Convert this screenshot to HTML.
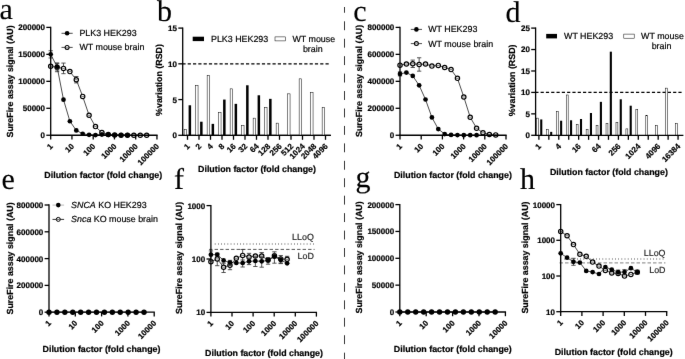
<!DOCTYPE html>
<html><head><meta charset="utf-8"><title>Figure</title>
<style>
html,body{margin:0;padding:0;background:#fff;}
body{width:685px;height:359px;overflow:hidden;font-family:"Liberation Sans",sans-serif;}
svg{display:block;will-change:transform;}
svg text{font-family:"Liberation Sans",sans-serif;text-rendering:geometricPrecision;}
svg text{stroke:#000;stroke-width:0.2px;}
svg text[font-weight="normal"]{stroke-width:0.18px;}
svg text.pl{stroke-width:0.15px;font-family:"Liberation Serif",serif;}
</style></head><body>
<svg width="685" height="359" viewBox="0 0 685 359">
<defs><filter id="soft" x="0" y="0" width="685" height="359" filterUnits="userSpaceOnUse" color-interpolation-filters="sRGB"><feConvolveMatrix order="3" kernelMatrix="0.00276 0.04704 0.00276 0.04704 0.80077 0.04704 0.00276 0.04704 0.00276" divisor="1" edgeMode="duplicate" preserveAlpha="true"/></filter></defs>
<rect x="0" y="0" width="685" height="359" fill="#fff"/>
<g filter="url(#soft)">
<rect x="-5" y="-5" width="695" height="369" fill="#fff"/>
<line x1="344.50" y1="7.00" x2="344.50" y2="12.76" stroke="#222" stroke-width="0.9" />
<line x1="344.50" y1="21.30" x2="344.50" y2="30.20" stroke="#222" stroke-width="0.9" />
<line x1="344.50" y1="38.74" x2="344.50" y2="47.64" stroke="#222" stroke-width="0.9" />
<line x1="344.50" y1="56.18" x2="344.50" y2="65.08" stroke="#222" stroke-width="0.9" />
<line x1="344.50" y1="73.62" x2="344.50" y2="82.52" stroke="#222" stroke-width="0.9" />
<line x1="344.50" y1="91.06" x2="344.50" y2="99.96" stroke="#222" stroke-width="0.9" />
<line x1="344.50" y1="108.50" x2="344.50" y2="117.40" stroke="#222" stroke-width="0.9" />
<line x1="344.50" y1="125.94" x2="344.50" y2="134.84" stroke="#222" stroke-width="0.9" />
<line x1="344.50" y1="143.38" x2="344.50" y2="152.28" stroke="#222" stroke-width="0.9" />
<line x1="344.50" y1="160.82" x2="344.50" y2="169.72" stroke="#222" stroke-width="0.9" />
<line x1="344.50" y1="178.26" x2="344.50" y2="187.16" stroke="#222" stroke-width="0.9" />
<line x1="344.50" y1="195.70" x2="344.50" y2="204.60" stroke="#222" stroke-width="0.9" />
<line x1="344.50" y1="213.14" x2="344.50" y2="222.04" stroke="#222" stroke-width="0.9" />
<line x1="344.50" y1="230.58" x2="344.50" y2="239.48" stroke="#222" stroke-width="0.9" />
<line x1="344.50" y1="248.02" x2="344.50" y2="256.92" stroke="#222" stroke-width="0.9" />
<line x1="344.50" y1="265.46" x2="344.50" y2="274.36" stroke="#222" stroke-width="0.9" />
<line x1="344.50" y1="282.90" x2="344.50" y2="291.80" stroke="#222" stroke-width="0.9" />
<line x1="344.50" y1="300.34" x2="344.50" y2="309.24" stroke="#222" stroke-width="0.9" />
<line x1="344.50" y1="317.78" x2="344.50" y2="326.68" stroke="#222" stroke-width="0.9" />
<line x1="344.50" y1="335.22" x2="344.50" y2="344.12" stroke="#222" stroke-width="0.9" />
<line x1="344.50" y1="352.66" x2="344.50" y2="359.00" stroke="#222" stroke-width="0.9" />
<text class="pl" x="-0.4" y="19.0" font-size="30" font-weight="normal">a</text>
<text class="pl" x="157" y="21.2" font-size="30" font-weight="normal">b</text>
<text class="pl" x="353.3" y="20.7" font-size="30" font-weight="normal">c</text>
<text class="pl" x="505.5" y="21.7" font-size="30" font-weight="normal">d</text>
<text class="pl" x="1.6" y="188.7" font-size="30" font-weight="normal">e</text>
<text class="pl" x="174.0" y="188.9" font-size="30" font-weight="normal">f</text>
<text class="pl" x="355.5" y="187.0" font-size="30" font-weight="normal">g</text>
<text class="pl" x="520.0" y="188.8" font-size="30" font-weight="normal">h</text>
<text transform="translate(13.00,81.40) rotate(-90)" font-size="8.85" font-weight="bold" text-anchor="middle">SureFire assay signal (AU)</text>
<text x="103.30" y="177.70" font-size="8.85" font-weight="bold" text-anchor="middle" fill="#000" >Dilution factor (fold change)</text>
<path d="M50.70,66.23 L57.10,67.30 L63.49,68.38 L69.89,71.62 L76.29,79.71 L82.68,96.42 L89.08,115.30 L95.48,126.62 L101.88,132.55 L108.27,134.44 L114.67,134.98 L121.07,135.14 L127.46,135.20 L133.86,135.20 L140.26,135.20 L146.65,135.20" fill="none" stroke="#000" stroke-width="0.7"/>
<line x1="57.10" y1="62.90" x2="57.10" y2="71.70" stroke="#383838" stroke-width="0.85" />
<line x1="54.95" y1="62.90" x2="59.25" y2="62.90" stroke="#383838" stroke-width="0.85" />
<line x1="54.95" y1="71.70" x2="59.25" y2="71.70" stroke="#383838" stroke-width="0.85" />
<line x1="63.49" y1="63.08" x2="63.49" y2="73.68" stroke="#383838" stroke-width="0.85" />
<line x1="61.34" y1="63.08" x2="65.64" y2="63.08" stroke="#383838" stroke-width="0.85" />
<line x1="61.34" y1="73.68" x2="65.64" y2="73.68" stroke="#383838" stroke-width="0.85" />
<line x1="76.29" y1="76.51" x2="76.29" y2="82.91" stroke="#383838" stroke-width="0.85" />
<line x1="74.14" y1="76.51" x2="78.44" y2="76.51" stroke="#383838" stroke-width="0.85" />
<line x1="74.14" y1="82.91" x2="78.44" y2="82.91" stroke="#383838" stroke-width="0.85" />
<circle cx="50.70" cy="66.23" r="2.15" fill="#fff" stroke="#000" stroke-width="1.2"/>
<line x1="49.35" y1="66.23" x2="52.05" y2="66.23" stroke="#484848" stroke-width="0.75" />
<circle cx="57.10" cy="67.30" r="2.15" fill="#fff" stroke="#000" stroke-width="1.2"/>
<line x1="55.75" y1="67.30" x2="58.45" y2="67.30" stroke="#484848" stroke-width="0.75" />
<circle cx="63.49" cy="68.38" r="2.15" fill="#fff" stroke="#000" stroke-width="1.2"/>
<line x1="62.14" y1="68.38" x2="64.84" y2="68.38" stroke="#484848" stroke-width="0.75" />
<circle cx="69.89" cy="71.62" r="2.15" fill="#fff" stroke="#000" stroke-width="1.2"/>
<line x1="68.54" y1="71.62" x2="71.24" y2="71.62" stroke="#484848" stroke-width="0.75" />
<circle cx="76.29" cy="79.71" r="2.15" fill="#fff" stroke="#000" stroke-width="1.2"/>
<line x1="74.94" y1="79.71" x2="77.64" y2="79.71" stroke="#484848" stroke-width="0.75" />
<circle cx="82.68" cy="96.42" r="2.15" fill="#fff" stroke="#000" stroke-width="1.2"/>
<line x1="81.33" y1="96.42" x2="84.03" y2="96.42" stroke="#484848" stroke-width="0.75" />
<circle cx="89.08" cy="115.30" r="2.15" fill="#fff" stroke="#000" stroke-width="1.2"/>
<line x1="87.73" y1="115.30" x2="90.43" y2="115.30" stroke="#484848" stroke-width="0.75" />
<circle cx="95.48" cy="126.62" r="2.15" fill="#fff" stroke="#000" stroke-width="1.2"/>
<line x1="94.13" y1="126.62" x2="96.83" y2="126.62" stroke="#484848" stroke-width="0.75" />
<circle cx="101.88" cy="132.55" r="2.15" fill="#fff" stroke="#000" stroke-width="1.2"/>
<line x1="100.53" y1="132.55" x2="103.23" y2="132.55" stroke="#484848" stroke-width="0.75" />
<circle cx="108.27" cy="134.44" r="2.15" fill="#fff" stroke="#000" stroke-width="1.2"/>
<line x1="106.92" y1="134.44" x2="109.62" y2="134.44" stroke="#484848" stroke-width="0.75" />
<circle cx="114.67" cy="134.98" r="2.15" fill="#fff" stroke="#000" stroke-width="1.2"/>
<line x1="113.32" y1="134.98" x2="116.02" y2="134.98" stroke="#484848" stroke-width="0.75" />
<circle cx="121.07" cy="135.14" r="2.15" fill="#fff" stroke="#000" stroke-width="1.2"/>
<line x1="119.72" y1="135.14" x2="122.42" y2="135.14" stroke="#484848" stroke-width="0.75" />
<circle cx="127.46" cy="135.20" r="2.15" fill="#fff" stroke="#000" stroke-width="1.2"/>
<line x1="126.11" y1="135.20" x2="128.81" y2="135.20" stroke="#484848" stroke-width="0.75" />
<circle cx="133.86" cy="135.20" r="2.15" fill="#fff" stroke="#000" stroke-width="1.2"/>
<line x1="132.51" y1="135.20" x2="135.21" y2="135.20" stroke="#484848" stroke-width="0.75" />
<circle cx="140.26" cy="135.20" r="2.15" fill="#fff" stroke="#000" stroke-width="1.2"/>
<line x1="138.91" y1="135.20" x2="141.61" y2="135.20" stroke="#484848" stroke-width="0.75" />
<circle cx="146.65" cy="135.20" r="2.15" fill="#fff" stroke="#000" stroke-width="1.2"/>
<line x1="145.30" y1="135.20" x2="148.00" y2="135.20" stroke="#484848" stroke-width="0.75" />
<path d="M50.70,54.36 L57.10,66.77 L63.49,99.66 L69.89,121.23 L76.29,130.40 L82.68,133.74 L89.08,134.82 L95.48,135.09 L101.88,134.60 L108.27,134.93 L114.67,135.09 L121.07,135.20 L127.46,135.20" fill="none" stroke="#000" stroke-width="0.7"/>
<line x1="50.70" y1="50.76" x2="50.70" y2="57.96" stroke="#383838" stroke-width="0.85" />
<line x1="48.55" y1="50.76" x2="52.85" y2="50.76" stroke="#383838" stroke-width="0.85" />
<line x1="48.55" y1="57.96" x2="52.85" y2="57.96" stroke="#383838" stroke-width="0.85" />
<line x1="57.10" y1="63.57" x2="57.10" y2="69.97" stroke="#383838" stroke-width="0.85" />
<line x1="54.95" y1="63.57" x2="59.25" y2="63.57" stroke="#383838" stroke-width="0.85" />
<line x1="54.95" y1="69.97" x2="59.25" y2="69.97" stroke="#383838" stroke-width="0.85" />
<circle cx="50.70" cy="54.36" r="2.35" fill="#000"/>
<circle cx="57.10" cy="66.77" r="2.35" fill="#000"/>
<circle cx="63.49" cy="99.66" r="2.35" fill="#000"/>
<circle cx="69.89" cy="121.23" r="2.35" fill="#000"/>
<circle cx="76.29" cy="130.40" r="2.35" fill="#000"/>
<circle cx="82.68" cy="133.74" r="2.35" fill="#000"/>
<circle cx="89.08" cy="134.82" r="2.35" fill="#000"/>
<circle cx="95.48" cy="135.09" r="2.35" fill="#000"/>
<circle cx="101.88" cy="134.60" r="2.35" fill="#000"/>
<circle cx="108.27" cy="134.93" r="2.35" fill="#000"/>
<circle cx="114.67" cy="135.09" r="2.35" fill="#000"/>
<circle cx="121.07" cy="135.20" r="2.35" fill="#000"/>
<circle cx="127.46" cy="135.20" r="2.35" fill="#000"/>
<line x1="61.50" y1="33.30" x2="72.70" y2="33.30" stroke="#000" stroke-width="0.7" />
<circle cx="67.10" cy="33.30" r="2.3" fill="#000"/>
<text x="79.40" y="36.20" font-size="8.9" font-weight="normal" text-anchor="start" fill="#000" >PLK3 HEK293</text>
<line x1="61.50" y1="47.40" x2="72.70" y2="47.40" stroke="#000" stroke-width="0.7" />
<circle cx="67.10" cy="47.40" r="1.95" fill="#fff" stroke="#000" stroke-width="1.1"/>
<line x1="65.80" y1="47.40" x2="68.40" y2="47.40" stroke="#555" stroke-width="0.6" />
<text x="79.40" y="50.30" font-size="8.9" font-weight="normal" text-anchor="start" fill="#000" >WT mouse brain</text>
<text transform="translate(362.00,80.90) rotate(-90)" font-size="8.85" font-weight="bold" text-anchor="middle">SureFire assay signal (AU)</text>
<text x="452.90" y="177.50" font-size="8.85" font-weight="bold" text-anchor="middle" fill="#000" >Dilution factor (fold change)</text>
<path d="M400.00,65.15 L406.38,64.07 L412.76,63.80 L419.15,64.47 L425.53,64.07 L431.91,66.09 L438.29,65.42 L444.67,67.44 L451.05,69.60 L457.44,78.36 L463.82,96.96 L470.20,117.19 L476.58,128.24 L482.96,132.82 L489.35,134.44 L495.73,134.91" fill="none" stroke="#000" stroke-width="0.7"/>
<line x1="412.76" y1="60.10" x2="412.76" y2="67.50" stroke="#383838" stroke-width="0.85" />
<line x1="410.61" y1="60.10" x2="414.91" y2="60.10" stroke="#383838" stroke-width="0.85" />
<line x1="410.61" y1="67.50" x2="414.91" y2="67.50" stroke="#383838" stroke-width="0.85" />
<line x1="419.15" y1="57.77" x2="419.15" y2="71.17" stroke="#383838" stroke-width="0.85" />
<line x1="417.00" y1="57.77" x2="421.30" y2="57.77" stroke="#383838" stroke-width="0.85" />
<line x1="417.00" y1="71.17" x2="421.30" y2="71.17" stroke="#383838" stroke-width="0.85" />
<circle cx="400.00" cy="65.15" r="2.15" fill="#fff" stroke="#000" stroke-width="1.2"/>
<line x1="398.65" y1="65.15" x2="401.35" y2="65.15" stroke="#484848" stroke-width="0.75" />
<circle cx="406.38" cy="64.07" r="2.15" fill="#fff" stroke="#000" stroke-width="1.2"/>
<line x1="405.03" y1="64.07" x2="407.73" y2="64.07" stroke="#484848" stroke-width="0.75" />
<circle cx="412.76" cy="63.80" r="2.15" fill="#fff" stroke="#000" stroke-width="1.2"/>
<line x1="411.41" y1="63.80" x2="414.11" y2="63.80" stroke="#484848" stroke-width="0.75" />
<circle cx="419.15" cy="64.47" r="2.15" fill="#fff" stroke="#000" stroke-width="1.2"/>
<line x1="417.80" y1="64.47" x2="420.50" y2="64.47" stroke="#484848" stroke-width="0.75" />
<circle cx="425.53" cy="64.07" r="2.15" fill="#fff" stroke="#000" stroke-width="1.2"/>
<line x1="424.18" y1="64.07" x2="426.88" y2="64.07" stroke="#484848" stroke-width="0.75" />
<circle cx="431.91" cy="66.09" r="2.15" fill="#fff" stroke="#000" stroke-width="1.2"/>
<line x1="430.56" y1="66.09" x2="433.26" y2="66.09" stroke="#484848" stroke-width="0.75" />
<circle cx="438.29" cy="65.42" r="2.15" fill="#fff" stroke="#000" stroke-width="1.2"/>
<line x1="436.94" y1="65.42" x2="439.64" y2="65.42" stroke="#484848" stroke-width="0.75" />
<circle cx="444.67" cy="67.44" r="2.15" fill="#fff" stroke="#000" stroke-width="1.2"/>
<line x1="443.32" y1="67.44" x2="446.02" y2="67.44" stroke="#484848" stroke-width="0.75" />
<circle cx="451.05" cy="69.60" r="2.15" fill="#fff" stroke="#000" stroke-width="1.2"/>
<line x1="449.70" y1="69.60" x2="452.40" y2="69.60" stroke="#484848" stroke-width="0.75" />
<circle cx="457.44" cy="78.36" r="2.15" fill="#fff" stroke="#000" stroke-width="1.2"/>
<line x1="456.09" y1="78.36" x2="458.79" y2="78.36" stroke="#484848" stroke-width="0.75" />
<circle cx="463.82" cy="96.96" r="2.15" fill="#fff" stroke="#000" stroke-width="1.2"/>
<line x1="462.47" y1="96.96" x2="465.17" y2="96.96" stroke="#484848" stroke-width="0.75" />
<circle cx="470.20" cy="117.19" r="2.15" fill="#fff" stroke="#000" stroke-width="1.2"/>
<line x1="468.85" y1="117.19" x2="471.55" y2="117.19" stroke="#484848" stroke-width="0.75" />
<circle cx="476.58" cy="128.24" r="2.15" fill="#fff" stroke="#000" stroke-width="1.2"/>
<line x1="475.23" y1="128.24" x2="477.93" y2="128.24" stroke="#484848" stroke-width="0.75" />
<circle cx="482.96" cy="132.82" r="2.15" fill="#fff" stroke="#000" stroke-width="1.2"/>
<line x1="481.61" y1="132.82" x2="484.31" y2="132.82" stroke="#484848" stroke-width="0.75" />
<circle cx="489.35" cy="134.44" r="2.15" fill="#fff" stroke="#000" stroke-width="1.2"/>
<line x1="488.00" y1="134.44" x2="490.70" y2="134.44" stroke="#484848" stroke-width="0.75" />
<circle cx="495.73" cy="134.91" r="2.15" fill="#fff" stroke="#000" stroke-width="1.2"/>
<line x1="494.38" y1="134.91" x2="497.08" y2="134.91" stroke="#484848" stroke-width="0.75" />
<path d="M400.00,73.91 L406.38,72.56 L412.76,75.93 L419.15,85.37 L425.53,99.52 L431.91,117.45 L438.29,129.05 L444.67,134.04 L451.05,134.91 L457.44,135.12 L463.82,135.18 L470.20,135.21 L476.58,135.21" fill="none" stroke="#000" stroke-width="0.7"/>
<line x1="400.00" y1="71.91" x2="400.00" y2="75.91" stroke="#383838" stroke-width="0.85" />
<line x1="397.85" y1="71.91" x2="402.15" y2="71.91" stroke="#383838" stroke-width="0.85" />
<line x1="397.85" y1="75.91" x2="402.15" y2="75.91" stroke="#383838" stroke-width="0.85" />
<circle cx="400.00" cy="73.91" r="2.35" fill="#000"/>
<circle cx="406.38" cy="72.56" r="2.35" fill="#000"/>
<circle cx="412.76" cy="75.93" r="2.35" fill="#000"/>
<circle cx="419.15" cy="85.37" r="2.35" fill="#000"/>
<circle cx="425.53" cy="99.52" r="2.35" fill="#000"/>
<circle cx="431.91" cy="117.45" r="2.35" fill="#000"/>
<circle cx="438.29" cy="129.05" r="2.35" fill="#000"/>
<circle cx="444.67" cy="134.04" r="2.35" fill="#000"/>
<circle cx="451.05" cy="134.91" r="2.35" fill="#000"/>
<circle cx="457.44" cy="135.12" r="2.35" fill="#000"/>
<circle cx="463.82" cy="135.18" r="2.35" fill="#000"/>
<circle cx="470.20" cy="135.21" r="2.35" fill="#000"/>
<circle cx="476.58" cy="135.21" r="2.35" fill="#000"/>
<line x1="410.80" y1="29.40" x2="422.00" y2="29.40" stroke="#000" stroke-width="0.7" />
<circle cx="416.40" cy="29.40" r="2.3" fill="#000"/>
<text x="428.20" y="32.30" font-size="8.9" font-weight="normal" text-anchor="start" fill="#000" >WT HEK293</text>
<line x1="410.80" y1="43.60" x2="422.00" y2="43.60" stroke="#000" stroke-width="0.7" />
<circle cx="416.40" cy="43.60" r="1.95" fill="#fff" stroke="#000" stroke-width="1.1"/>
<line x1="415.10" y1="43.60" x2="417.70" y2="43.60" stroke="#555" stroke-width="0.6" />
<text x="428.20" y="46.50" font-size="8.9" font-weight="normal" text-anchor="start" fill="#000" >WT mouse brain</text>
<text transform="translate(13.00,258.40) rotate(-90)" font-size="8.85" font-weight="bold" text-anchor="middle">SureFire assay signal (AU)</text>
<text x="101.50" y="352.00" font-size="8.85" font-weight="bold" text-anchor="middle" fill="#000" >Dilution factor (fold change)</text>
<path d="M49.00,312.20 L56.92,312.20 L64.83,312.20 L72.75,312.20 L80.67,312.20 L88.59,312.20 L96.50,312.20 L104.42,312.20 L112.34,312.20 L120.25,312.20 L128.17,312.20 L136.09,312.20 L144.01,312.20" fill="none" stroke="#000" stroke-width="0.7"/>
<circle cx="49.00" cy="312.20" r="2.7" fill="#000"/>
<circle cx="56.92" cy="312.20" r="2.7" fill="#000"/>
<circle cx="64.83" cy="312.20" r="2.7" fill="#000"/>
<circle cx="72.75" cy="312.20" r="2.7" fill="#000"/>
<circle cx="80.67" cy="312.20" r="2.7" fill="#000"/>
<circle cx="88.59" cy="312.20" r="2.7" fill="#000"/>
<circle cx="96.50" cy="312.20" r="2.7" fill="#000"/>
<circle cx="104.42" cy="312.20" r="2.7" fill="#000"/>
<circle cx="112.34" cy="312.20" r="2.7" fill="#000"/>
<circle cx="120.25" cy="312.20" r="2.7" fill="#000"/>
<circle cx="128.17" cy="312.20" r="2.7" fill="#000"/>
<circle cx="136.09" cy="312.20" r="2.7" fill="#000"/>
<circle cx="144.01" cy="312.20" r="2.7" fill="#000"/>
<line x1="52.50" y1="205.10" x2="64.10" y2="205.10" stroke="#a8a8a8" stroke-width="0.8" />
<circle cx="58.30" cy="205.10" r="2.3" fill="#000"/>
<text x="71.1" y="208.00" font-size="8.9" font-weight="normal"><tspan font-style="italic">SNCA</tspan> KO HEK293</text>
<line x1="52.50" y1="219.40" x2="64.10" y2="219.40" stroke="#000" stroke-width="0.8" />
<circle cx="58.30" cy="219.40" r="2.0" fill="#fff" stroke="#000" stroke-width="1.0"/>
<line x1="56.80" y1="219.40" x2="59.80" y2="219.40" stroke="#000" stroke-width="0.6" />
<text x="71.1" y="222.30" font-size="8.9" font-weight="normal"><tspan font-style="italic">Snca</tspan> KO mouse brain</text>
<text transform="translate(361.80,257.40) rotate(-90)" font-size="8.85" font-weight="bold" text-anchor="middle">SureFire assay signal (AU)</text>
<text x="452.80" y="352.00" font-size="8.85" font-weight="bold" text-anchor="middle" fill="#000" >Dilution factor (fold change)</text>
<path d="M399.80,312.00 L407.75,312.00 L415.69,312.00 L423.64,312.00 L431.59,312.00 L439.54,312.00 L447.48,312.00 L455.43,312.00 L463.38,312.00 L471.32,312.00 L479.27,312.00 L487.22,312.00 L495.17,312.00" fill="none" stroke="#000" stroke-width="0.7"/>
<circle cx="399.80" cy="312.00" r="2.7" fill="#000"/>
<circle cx="407.75" cy="312.00" r="2.7" fill="#000"/>
<circle cx="415.69" cy="312.00" r="2.7" fill="#000"/>
<circle cx="423.64" cy="312.00" r="2.7" fill="#000"/>
<circle cx="431.59" cy="312.00" r="2.7" fill="#000"/>
<circle cx="439.54" cy="312.00" r="2.7" fill="#000"/>
<circle cx="447.48" cy="312.00" r="2.7" fill="#000"/>
<circle cx="455.43" cy="312.00" r="2.7" fill="#000"/>
<circle cx="463.38" cy="312.00" r="2.7" fill="#000"/>
<circle cx="471.32" cy="312.00" r="2.7" fill="#000"/>
<circle cx="479.27" cy="312.00" r="2.7" fill="#000"/>
<circle cx="487.22" cy="312.00" r="2.7" fill="#000"/>
<circle cx="495.17" cy="312.00" r="2.7" fill="#000"/>
<text transform="translate(181.70,257.90) rotate(-90)" font-size="8.85" font-weight="bold" text-anchor="middle">SureFire assay signal (AU)</text>
<text x="264.00" y="355.80" font-size="8.85" font-weight="bold" text-anchor="middle" fill="#000" >Dilution factor (fold change)</text>
<line x1="214.80" y1="243.90" x2="314.60" y2="243.90" stroke="#6a6a6a" stroke-width="1.5" stroke-dasharray="0.75 2.42"/>
<line x1="209.10" y1="249.40" x2="314.60" y2="249.40" stroke="#383838" stroke-width="0.85" stroke-dasharray="3.4 2.1"/>
<text x="313.80" y="239.70" font-size="8.9" font-weight="normal" text-anchor="end" fill="#333" >LLoQ</text>
<text x="313.80" y="259.00" font-size="8.9" font-weight="normal" text-anchor="end" fill="#333" >LoD</text>
<path d="M210.90,261.70 L217.25,258.90 L223.60,267.20 L229.96,265.20 L236.31,258.30 L242.66,255.40 L249.01,257.10 L255.36,256.00 L261.71,256.00 L268.07,260.00 L274.42,255.80 L280.77,259.00 L287.12,259.30" fill="none" stroke="#000" stroke-width="0.7"/>
<line x1="217.25" y1="253.80" x2="217.25" y2="265.70" stroke="#383838" stroke-width="0.85" />
<line x1="215.10" y1="253.80" x2="219.40" y2="253.80" stroke="#383838" stroke-width="0.85" />
<line x1="215.10" y1="265.70" x2="219.40" y2="265.70" stroke="#383838" stroke-width="0.85" />
<line x1="223.60" y1="263.22" x2="223.60" y2="272.50" stroke="#383838" stroke-width="0.85" />
<line x1="221.45" y1="263.22" x2="225.75" y2="263.22" stroke="#383838" stroke-width="0.85" />
<line x1="221.45" y1="272.50" x2="225.75" y2="272.50" stroke="#383838" stroke-width="0.85" />
<line x1="229.96" y1="261.82" x2="229.96" y2="269.70" stroke="#383838" stroke-width="0.85" />
<line x1="227.81" y1="261.82" x2="232.11" y2="261.82" stroke="#383838" stroke-width="0.85" />
<line x1="227.81" y1="269.70" x2="232.11" y2="269.70" stroke="#383838" stroke-width="0.85" />
<line x1="242.66" y1="249.47" x2="242.66" y2="263.30" stroke="#383838" stroke-width="0.85" />
<line x1="240.51" y1="249.47" x2="244.81" y2="249.47" stroke="#383838" stroke-width="0.85" />
<line x1="240.51" y1="263.30" x2="244.81" y2="263.30" stroke="#383838" stroke-width="0.85" />
<line x1="249.01" y1="253.35" x2="249.01" y2="262.10" stroke="#383838" stroke-width="0.85" />
<line x1="246.86" y1="253.35" x2="251.16" y2="253.35" stroke="#383838" stroke-width="0.85" />
<line x1="246.86" y1="262.10" x2="251.16" y2="262.10" stroke="#383838" stroke-width="0.85" />
<line x1="261.71" y1="252.55" x2="261.71" y2="260.60" stroke="#383838" stroke-width="0.85" />
<line x1="259.56" y1="252.55" x2="263.86" y2="252.55" stroke="#383838" stroke-width="0.85" />
<line x1="259.56" y1="260.60" x2="263.86" y2="260.60" stroke="#383838" stroke-width="0.85" />
<line x1="280.77" y1="255.55" x2="280.77" y2="263.60" stroke="#383838" stroke-width="0.85" />
<line x1="278.62" y1="255.55" x2="282.92" y2="255.55" stroke="#383838" stroke-width="0.85" />
<line x1="278.62" y1="263.60" x2="282.92" y2="263.60" stroke="#383838" stroke-width="0.85" />
<line x1="287.12" y1="256.30" x2="287.12" y2="263.30" stroke="#383838" stroke-width="0.85" />
<line x1="284.97" y1="256.30" x2="289.27" y2="256.30" stroke="#383838" stroke-width="0.85" />
<line x1="284.97" y1="263.30" x2="289.27" y2="263.30" stroke="#383838" stroke-width="0.85" />
<circle cx="210.90" cy="261.70" r="2.15" fill="#fff" stroke="#000" stroke-width="1.2"/>
<line x1="209.55" y1="261.70" x2="212.25" y2="261.70" stroke="#484848" stroke-width="0.75" />
<circle cx="217.25" cy="258.90" r="2.15" fill="#fff" stroke="#000" stroke-width="1.2"/>
<line x1="215.90" y1="258.90" x2="218.60" y2="258.90" stroke="#484848" stroke-width="0.75" />
<circle cx="223.60" cy="267.20" r="2.15" fill="#fff" stroke="#000" stroke-width="1.2"/>
<line x1="222.25" y1="267.20" x2="224.95" y2="267.20" stroke="#484848" stroke-width="0.75" />
<circle cx="229.96" cy="265.20" r="2.15" fill="#fff" stroke="#000" stroke-width="1.2"/>
<line x1="228.61" y1="265.20" x2="231.31" y2="265.20" stroke="#484848" stroke-width="0.75" />
<circle cx="236.31" cy="258.30" r="2.15" fill="#fff" stroke="#000" stroke-width="1.2"/>
<line x1="234.96" y1="258.30" x2="237.66" y2="258.30" stroke="#484848" stroke-width="0.75" />
<circle cx="242.66" cy="255.40" r="2.15" fill="#fff" stroke="#000" stroke-width="1.2"/>
<line x1="241.31" y1="255.40" x2="244.01" y2="255.40" stroke="#484848" stroke-width="0.75" />
<circle cx="249.01" cy="257.10" r="2.15" fill="#fff" stroke="#000" stroke-width="1.2"/>
<line x1="247.66" y1="257.10" x2="250.36" y2="257.10" stroke="#484848" stroke-width="0.75" />
<circle cx="255.36" cy="256.00" r="2.15" fill="#fff" stroke="#000" stroke-width="1.2"/>
<line x1="254.01" y1="256.00" x2="256.71" y2="256.00" stroke="#484848" stroke-width="0.75" />
<circle cx="261.71" cy="256.00" r="2.15" fill="#fff" stroke="#000" stroke-width="1.2"/>
<line x1="260.36" y1="256.00" x2="263.06" y2="256.00" stroke="#484848" stroke-width="0.75" />
<circle cx="268.07" cy="260.00" r="2.15" fill="#fff" stroke="#000" stroke-width="1.2"/>
<line x1="266.72" y1="260.00" x2="269.42" y2="260.00" stroke="#484848" stroke-width="0.75" />
<circle cx="274.42" cy="255.80" r="2.15" fill="#fff" stroke="#000" stroke-width="1.2"/>
<line x1="273.07" y1="255.80" x2="275.77" y2="255.80" stroke="#484848" stroke-width="0.75" />
<circle cx="280.77" cy="259.00" r="2.15" fill="#fff" stroke="#000" stroke-width="1.2"/>
<line x1="279.42" y1="259.00" x2="282.12" y2="259.00" stroke="#484848" stroke-width="0.75" />
<circle cx="287.12" cy="259.30" r="2.15" fill="#fff" stroke="#000" stroke-width="1.2"/>
<line x1="285.77" y1="259.30" x2="288.47" y2="259.30" stroke="#484848" stroke-width="0.75" />
<path d="M210.90,254.70 L217.25,254.70 L223.60,260.40 L229.96,262.60 L236.31,262.90 L242.66,263.00 L249.01,261.30 L255.36,261.00 L261.71,261.30 L268.07,260.40 L274.42,256.70 L280.77,260.00 L287.12,263.30" fill="none" stroke="#000" stroke-width="0.7"/>
<line x1="210.90" y1="250.95" x2="210.90" y2="259.70" stroke="#383838" stroke-width="0.85" />
<line x1="208.75" y1="250.95" x2="213.05" y2="250.95" stroke="#383838" stroke-width="0.85" />
<line x1="208.75" y1="259.70" x2="213.05" y2="259.70" stroke="#383838" stroke-width="0.85" />
<line x1="217.25" y1="253.20" x2="217.25" y2="256.70" stroke="#383838" stroke-width="0.85" />
<line x1="215.10" y1="253.20" x2="219.40" y2="253.20" stroke="#383838" stroke-width="0.85" />
<line x1="215.10" y1="256.70" x2="219.40" y2="256.70" stroke="#383838" stroke-width="0.85" />
<line x1="229.96" y1="260.35" x2="229.96" y2="265.60" stroke="#383838" stroke-width="0.85" />
<line x1="227.81" y1="260.35" x2="232.11" y2="260.35" stroke="#383838" stroke-width="0.85" />
<line x1="227.81" y1="265.60" x2="232.11" y2="265.60" stroke="#383838" stroke-width="0.85" />
<line x1="242.66" y1="260.00" x2="242.66" y2="267.00" stroke="#383838" stroke-width="0.85" />
<line x1="240.51" y1="260.00" x2="244.81" y2="260.00" stroke="#383838" stroke-width="0.85" />
<line x1="240.51" y1="267.00" x2="244.81" y2="267.00" stroke="#383838" stroke-width="0.85" />
<line x1="249.01" y1="258.82" x2="249.01" y2="264.60" stroke="#383838" stroke-width="0.85" />
<line x1="246.86" y1="258.82" x2="251.16" y2="258.82" stroke="#383838" stroke-width="0.85" />
<line x1="246.86" y1="264.60" x2="251.16" y2="264.60" stroke="#383838" stroke-width="0.85" />
<line x1="255.36" y1="256.88" x2="255.36" y2="266.50" stroke="#383838" stroke-width="0.85" />
<line x1="253.21" y1="256.88" x2="257.51" y2="256.88" stroke="#383838" stroke-width="0.85" />
<line x1="253.21" y1="266.50" x2="257.51" y2="266.50" stroke="#383838" stroke-width="0.85" />
<line x1="261.71" y1="256.88" x2="261.71" y2="267.20" stroke="#383838" stroke-width="0.85" />
<line x1="259.56" y1="256.88" x2="263.86" y2="256.88" stroke="#383838" stroke-width="0.85" />
<line x1="259.56" y1="267.20" x2="263.86" y2="267.20" stroke="#383838" stroke-width="0.85" />
<line x1="268.07" y1="257.55" x2="268.07" y2="264.20" stroke="#383838" stroke-width="0.85" />
<line x1="265.92" y1="257.55" x2="270.22" y2="257.55" stroke="#383838" stroke-width="0.85" />
<line x1="265.92" y1="264.20" x2="270.22" y2="264.20" stroke="#383838" stroke-width="0.85" />
<line x1="274.42" y1="251.82" x2="274.42" y2="263.20" stroke="#383838" stroke-width="0.85" />
<line x1="272.27" y1="251.82" x2="276.57" y2="251.82" stroke="#383838" stroke-width="0.85" />
<line x1="272.27" y1="263.20" x2="276.57" y2="263.20" stroke="#383838" stroke-width="0.85" />
<line x1="280.77" y1="257.75" x2="280.77" y2="263.00" stroke="#383838" stroke-width="0.85" />
<line x1="278.62" y1="257.75" x2="282.92" y2="257.75" stroke="#383838" stroke-width="0.85" />
<line x1="278.62" y1="263.00" x2="282.92" y2="263.00" stroke="#383838" stroke-width="0.85" />
<circle cx="210.90" cy="254.70" r="2.35" fill="#000"/>
<circle cx="217.25" cy="254.70" r="2.35" fill="#000"/>
<circle cx="223.60" cy="260.40" r="2.35" fill="#000"/>
<circle cx="229.96" cy="262.60" r="2.35" fill="#000"/>
<circle cx="236.31" cy="262.90" r="2.35" fill="#000"/>
<circle cx="242.66" cy="263.00" r="2.35" fill="#000"/>
<circle cx="249.01" cy="261.30" r="2.35" fill="#000"/>
<circle cx="255.36" cy="261.00" r="2.35" fill="#000"/>
<circle cx="261.71" cy="261.30" r="2.35" fill="#000"/>
<circle cx="268.07" cy="260.40" r="2.35" fill="#000"/>
<circle cx="274.42" cy="256.70" r="2.35" fill="#000"/>
<circle cx="280.77" cy="260.00" r="2.35" fill="#000"/>
<circle cx="287.12" cy="263.30" r="2.35" fill="#000"/>
<text transform="translate(527.50,257.50) rotate(-90)" font-size="8.85" font-weight="bold" text-anchor="middle">SureFire assay signal (AU)</text>
<text x="613.70" y="354.80" font-size="8.85" font-weight="bold" text-anchor="middle" fill="#000" >Dilution factor (fold change)</text>
<line x1="564.40" y1="258.90" x2="665.40" y2="258.90" stroke="#6a6a6a" stroke-width="1.5" stroke-dasharray="0.75 2.42"/>
<line x1="559.50" y1="262.80" x2="665.40" y2="262.80" stroke="#9a9a9a" stroke-width="1.35" stroke-dasharray="3.5 2.0"/>
<text x="665.50" y="255.80" font-size="8.9" font-weight="normal" text-anchor="end" fill="#333" >LLoQ</text>
<text x="665.50" y="272.90" font-size="8.9" font-weight="normal" text-anchor="end" fill="#333" >LoD</text>
<path d="M560.70,231.40 L567.08,235.80 L573.46,244.60 L579.85,254.20 L586.23,256.30 L592.61,262.10 L598.99,266.10 L605.37,270.40 L611.75,273.00 L618.14,273.50 L624.52,276.10 L630.90,274.40 L637.28,272.30" fill="none" stroke="#000" stroke-width="0.7"/>
<circle cx="560.70" cy="231.40" r="2.15" fill="#fff" stroke="#000" stroke-width="1.2"/>
<line x1="559.35" y1="231.40" x2="562.05" y2="231.40" stroke="#484848" stroke-width="0.75" />
<circle cx="567.08" cy="235.80" r="2.15" fill="#fff" stroke="#000" stroke-width="1.2"/>
<line x1="565.73" y1="235.80" x2="568.43" y2="235.80" stroke="#484848" stroke-width="0.75" />
<circle cx="573.46" cy="244.60" r="2.15" fill="#fff" stroke="#000" stroke-width="1.2"/>
<line x1="572.11" y1="244.60" x2="574.81" y2="244.60" stroke="#484848" stroke-width="0.75" />
<circle cx="579.85" cy="254.20" r="2.15" fill="#fff" stroke="#000" stroke-width="1.2"/>
<line x1="578.50" y1="254.20" x2="581.20" y2="254.20" stroke="#484848" stroke-width="0.75" />
<circle cx="586.23" cy="256.30" r="2.15" fill="#fff" stroke="#000" stroke-width="1.2"/>
<line x1="584.88" y1="256.30" x2="587.58" y2="256.30" stroke="#484848" stroke-width="0.75" />
<circle cx="592.61" cy="262.10" r="2.15" fill="#fff" stroke="#000" stroke-width="1.2"/>
<line x1="591.26" y1="262.10" x2="593.96" y2="262.10" stroke="#484848" stroke-width="0.75" />
<circle cx="598.99" cy="266.10" r="2.15" fill="#fff" stroke="#000" stroke-width="1.2"/>
<line x1="597.64" y1="266.10" x2="600.34" y2="266.10" stroke="#484848" stroke-width="0.75" />
<circle cx="605.37" cy="270.40" r="2.15" fill="#fff" stroke="#000" stroke-width="1.2"/>
<line x1="604.02" y1="270.40" x2="606.72" y2="270.40" stroke="#484848" stroke-width="0.75" />
<circle cx="611.75" cy="273.00" r="2.15" fill="#fff" stroke="#000" stroke-width="1.2"/>
<line x1="610.40" y1="273.00" x2="613.10" y2="273.00" stroke="#484848" stroke-width="0.75" />
<circle cx="618.14" cy="273.50" r="2.15" fill="#fff" stroke="#000" stroke-width="1.2"/>
<line x1="616.79" y1="273.50" x2="619.49" y2="273.50" stroke="#484848" stroke-width="0.75" />
<circle cx="624.52" cy="276.10" r="2.15" fill="#fff" stroke="#000" stroke-width="1.2"/>
<line x1="623.17" y1="276.10" x2="625.87" y2="276.10" stroke="#484848" stroke-width="0.75" />
<circle cx="630.90" cy="274.40" r="2.15" fill="#fff" stroke="#000" stroke-width="1.2"/>
<line x1="629.55" y1="274.40" x2="632.25" y2="274.40" stroke="#484848" stroke-width="0.75" />
<circle cx="637.28" cy="272.30" r="2.15" fill="#fff" stroke="#000" stroke-width="1.2"/>
<line x1="635.93" y1="272.30" x2="638.63" y2="272.30" stroke="#484848" stroke-width="0.75" />
<path d="M560.70,253.30 L567.08,257.70 L573.46,261.80 L579.85,262.60 L586.23,270.90 L592.61,272.10 L598.99,274.00 L605.37,267.00 L611.75,269.60 L618.14,272.10 L624.52,272.10 L630.90,268.20 L637.28,272.10" fill="none" stroke="#000" stroke-width="0.7"/>
<line x1="573.46" y1="258.30" x2="573.46" y2="265.30" stroke="#383838" stroke-width="0.85" />
<line x1="571.31" y1="258.30" x2="575.61" y2="258.30" stroke="#383838" stroke-width="0.85" />
<line x1="571.31" y1="265.30" x2="575.61" y2="265.30" stroke="#383838" stroke-width="0.85" />
<line x1="618.14" y1="270.10" x2="618.14" y2="274.10" stroke="#383838" stroke-width="0.85" />
<line x1="615.99" y1="270.10" x2="620.29" y2="270.10" stroke="#383838" stroke-width="0.85" />
<line x1="615.99" y1="274.10" x2="620.29" y2="274.10" stroke="#383838" stroke-width="0.85" />
<line x1="624.52" y1="269.60" x2="624.52" y2="274.60" stroke="#383838" stroke-width="0.85" />
<line x1="622.37" y1="269.60" x2="626.67" y2="269.60" stroke="#383838" stroke-width="0.85" />
<line x1="622.37" y1="274.60" x2="626.67" y2="274.60" stroke="#383838" stroke-width="0.85" />
<line x1="637.28" y1="270.10" x2="637.28" y2="274.10" stroke="#383838" stroke-width="0.85" />
<line x1="635.13" y1="270.10" x2="639.43" y2="270.10" stroke="#383838" stroke-width="0.85" />
<line x1="635.13" y1="274.10" x2="639.43" y2="274.10" stroke="#383838" stroke-width="0.85" />
<circle cx="560.70" cy="253.30" r="2.35" fill="#000"/>
<circle cx="567.08" cy="257.70" r="2.35" fill="#000"/>
<circle cx="573.46" cy="261.80" r="2.35" fill="#000"/>
<circle cx="579.85" cy="262.60" r="2.35" fill="#000"/>
<circle cx="586.23" cy="270.90" r="2.35" fill="#000"/>
<circle cx="592.61" cy="272.10" r="2.35" fill="#000"/>
<circle cx="598.99" cy="274.00" r="2.35" fill="#000"/>
<circle cx="605.37" cy="267.00" r="2.35" fill="#000"/>
<circle cx="611.75" cy="269.60" r="2.35" fill="#000"/>
<circle cx="618.14" cy="272.10" r="2.35" fill="#000"/>
<circle cx="624.52" cy="272.10" r="2.35" fill="#000"/>
<circle cx="630.90" cy="268.20" r="2.35" fill="#000"/>
<circle cx="637.28" cy="272.10" r="2.35" fill="#000"/>
<line x1="182.05" y1="135.30" x2="330.80" y2="135.30" stroke="#000" stroke-width="1.3" />
<line x1="182.40" y1="63.83" x2="330.80" y2="63.83" stroke="#000" stroke-width="1.2" stroke-dasharray="3.2 2.1"/>
<line x1="187.50" y1="135.30" x2="187.50" y2="139.80" stroke="#000" stroke-width="1.3" />
<text transform="translate(190.30,146.80) rotate(-45)" font-size="8.0" font-weight="bold" text-anchor="end">1</text>
<rect x="184.15" y="129.58" width="2.4" height="5.72" fill="#fff" stroke="#000" stroke-width="0.5"/>
<rect x="188.60" y="105.28" width="2.5" height="30.02" fill="#000"/>
<line x1="199.00" y1="135.30" x2="199.00" y2="139.80" stroke="#000" stroke-width="1.3" />
<text transform="translate(201.80,146.80) rotate(-45)" font-size="8.0" font-weight="bold" text-anchor="end">2</text>
<rect x="195.65" y="85.27" width="2.4" height="50.03" fill="#fff" stroke="#000" stroke-width="0.5"/>
<rect x="200.10" y="121.72" width="2.5" height="13.58" fill="#000"/>
<line x1="210.50" y1="135.30" x2="210.50" y2="139.80" stroke="#000" stroke-width="1.3" />
<text transform="translate(213.30,146.80) rotate(-45)" font-size="8.0" font-weight="bold" text-anchor="end">4</text>
<rect x="207.15" y="75.27" width="2.4" height="60.03" fill="#fff" stroke="#000" stroke-width="0.5"/>
<rect x="211.60" y="123.87" width="2.5" height="11.43" fill="#000"/>
<line x1="222.00" y1="135.30" x2="222.00" y2="139.80" stroke="#000" stroke-width="1.3" />
<text transform="translate(224.80,146.80) rotate(-45)" font-size="8.0" font-weight="bold" text-anchor="end">8</text>
<rect x="218.65" y="112.43" width="2.4" height="22.87" fill="#fff" stroke="#000" stroke-width="0.5"/>
<rect x="223.10" y="99.57" width="2.5" height="35.73" fill="#000"/>
<line x1="233.50" y1="135.30" x2="233.50" y2="139.80" stroke="#000" stroke-width="1.3" />
<text transform="translate(236.30,146.80) rotate(-45)" font-size="8.0" font-weight="bold" text-anchor="end">16</text>
<rect x="230.15" y="88.85" width="2.4" height="46.45" fill="#fff" stroke="#000" stroke-width="0.5"/>
<rect x="234.60" y="103.85" width="2.5" height="31.45" fill="#000"/>
<line x1="245.00" y1="135.30" x2="245.00" y2="139.80" stroke="#000" stroke-width="1.3" />
<text transform="translate(247.80,146.80) rotate(-45)" font-size="8.0" font-weight="bold" text-anchor="end">32</text>
<rect x="241.65" y="125.29" width="2.4" height="10.01" fill="#fff" stroke="#000" stroke-width="0.5"/>
<rect x="246.10" y="85.27" width="2.5" height="50.03" fill="#000"/>
<line x1="256.50" y1="135.30" x2="256.50" y2="139.80" stroke="#000" stroke-width="1.3" />
<text transform="translate(259.30,146.80) rotate(-45)" font-size="8.0" font-weight="bold" text-anchor="end">64</text>
<rect x="253.15" y="118.15" width="2.4" height="17.15" fill="#fff" stroke="#000" stroke-width="0.5"/>
<rect x="257.60" y="95.28" width="2.5" height="40.02" fill="#000"/>
<line x1="268.00" y1="135.30" x2="268.00" y2="139.80" stroke="#000" stroke-width="1.3" />
<text transform="translate(270.80,146.80) rotate(-45)" font-size="8.0" font-weight="bold" text-anchor="end">128</text>
<rect x="264.65" y="107.43" width="2.4" height="27.87" fill="#fff" stroke="#000" stroke-width="0.5"/>
<rect x="269.10" y="98.85" width="2.5" height="36.45" fill="#000"/>
<line x1="279.50" y1="135.30" x2="279.50" y2="139.80" stroke="#000" stroke-width="1.3" />
<text transform="translate(282.30,146.80) rotate(-45)" font-size="8.0" font-weight="bold" text-anchor="end">256</text>
<rect x="276.15" y="123.15" width="2.4" height="12.15" fill="#fff" stroke="#000" stroke-width="0.5"/>
<line x1="291.00" y1="135.30" x2="291.00" y2="139.80" stroke="#000" stroke-width="1.3" />
<text transform="translate(293.80,146.80) rotate(-45)" font-size="8.0" font-weight="bold" text-anchor="end">512</text>
<rect x="287.65" y="93.85" width="2.4" height="41.45" fill="#fff" stroke="#000" stroke-width="0.5"/>
<line x1="302.50" y1="135.30" x2="302.50" y2="139.80" stroke="#000" stroke-width="1.3" />
<text transform="translate(305.30,146.80) rotate(-45)" font-size="8.0" font-weight="bold" text-anchor="end">1024</text>
<rect x="299.15" y="78.84" width="2.4" height="56.46" fill="#fff" stroke="#000" stroke-width="0.5"/>
<line x1="314.00" y1="135.30" x2="314.00" y2="139.80" stroke="#000" stroke-width="1.3" />
<text transform="translate(316.80,146.80) rotate(-45)" font-size="8.0" font-weight="bold" text-anchor="end">2048</text>
<rect x="310.65" y="92.42" width="2.4" height="42.88" fill="#fff" stroke="#000" stroke-width="0.5"/>
<line x1="325.50" y1="135.30" x2="325.50" y2="139.80" stroke="#000" stroke-width="1.3" />
<text transform="translate(328.30,146.80) rotate(-45)" font-size="8.0" font-weight="bold" text-anchor="end">4096</text>
<rect x="322.15" y="107.43" width="2.4" height="27.87" fill="#fff" stroke="#000" stroke-width="0.5"/>
<line x1="182.05" y1="135.30" x2="330.80" y2="135.30" stroke="#000" stroke-width="1.3" />
<text transform="translate(162.40,80.00) rotate(-90)" font-size="8.85" font-weight="bold" text-anchor="middle">%variation (RSD)</text>
<text x="257.00" y="171.70" font-size="8.85" font-weight="bold" text-anchor="middle" fill="#000" >Dilution factor (fold change)</text>
<rect x="192.7" y="36.7" width="11.3" height="4.4" fill="#000"/>
<text x="211.00" y="41.60" font-size="8.9" font-weight="normal" text-anchor="start" fill="#000" >PLK3 HEK293</text>
<rect x="275.0" y="36.9" width="10.6" height="4.0" fill="#fff" stroke="#000" stroke-width="0.5"/>
<text x="292.40" y="41.60" font-size="8.9" font-weight="normal" text-anchor="start" fill="#000" >WT mouse</text>
<text x="312.80" y="51.60" font-size="8.9" font-weight="normal" text-anchor="middle" fill="#000" >brain</text>
<line x1="535.30" y1="92.42" x2="683.40" y2="92.42" stroke="#000" stroke-width="1.2" stroke-dasharray="3.2 2.1"/>
<line x1="538.90" y1="135.30" x2="538.90" y2="139.80" stroke="#000" stroke-width="1.3" />
<text transform="translate(541.70,146.80) rotate(-45)" font-size="8.0" font-weight="bold" text-anchor="end">1</text>
<rect x="536.45" y="118.15" width="1.9" height="17.15" fill="#fff" stroke="#000" stroke-width="0.5"/>
<rect x="540.20" y="119.43" width="2.1" height="15.87" fill="#000"/>
<line x1="548.84" y1="135.30" x2="548.84" y2="139.80" stroke="#000" stroke-width="1.3" />
<rect x="546.39" y="129.73" width="1.9" height="5.57" fill="#fff" stroke="#000" stroke-width="0.5"/>
<rect x="550.14" y="131.87" width="2.1" height="3.43" fill="#000"/>
<line x1="558.78" y1="135.30" x2="558.78" y2="139.80" stroke="#000" stroke-width="1.3" />
<text transform="translate(561.58,146.80) rotate(-45)" font-size="8.0" font-weight="bold" text-anchor="end">4</text>
<rect x="556.33" y="111.29" width="1.9" height="24.01" fill="#fff" stroke="#000" stroke-width="0.5"/>
<rect x="560.08" y="120.72" width="2.1" height="14.58" fill="#000"/>
<line x1="568.72" y1="135.30" x2="568.72" y2="139.80" stroke="#000" stroke-width="1.3" />
<rect x="566.27" y="94.99" width="1.9" height="40.31" fill="#fff" stroke="#000" stroke-width="0.5"/>
<rect x="570.02" y="120.29" width="2.1" height="15.01" fill="#000"/>
<line x1="578.66" y1="135.30" x2="578.66" y2="139.80" stroke="#000" stroke-width="1.3" />
<text transform="translate(581.46,146.80) rotate(-45)" font-size="8.0" font-weight="bold" text-anchor="end">16</text>
<rect x="576.21" y="124.58" width="1.9" height="10.72" fill="#fff" stroke="#000" stroke-width="0.5"/>
<rect x="579.96" y="119.01" width="2.1" height="16.29" fill="#000"/>
<line x1="588.60" y1="135.30" x2="588.60" y2="139.80" stroke="#000" stroke-width="1.3" />
<rect x="586.15" y="129.30" width="1.9" height="6.00" fill="#fff" stroke="#000" stroke-width="0.5"/>
<rect x="589.90" y="113.00" width="2.1" height="22.30" fill="#000"/>
<line x1="598.54" y1="135.30" x2="598.54" y2="139.80" stroke="#000" stroke-width="1.3" />
<text transform="translate(601.34,146.80) rotate(-45)" font-size="8.0" font-weight="bold" text-anchor="end">64</text>
<rect x="596.09" y="125.44" width="1.9" height="9.86" fill="#fff" stroke="#000" stroke-width="0.5"/>
<rect x="599.84" y="101.85" width="2.1" height="33.45" fill="#000"/>
<line x1="608.48" y1="135.30" x2="608.48" y2="139.80" stroke="#000" stroke-width="1.3" />
<rect x="606.03" y="123.29" width="1.9" height="12.01" fill="#fff" stroke="#000" stroke-width="0.5"/>
<rect x="609.78" y="51.68" width="2.1" height="83.62" fill="#000"/>
<line x1="618.42" y1="135.30" x2="618.42" y2="139.80" stroke="#000" stroke-width="1.3" />
<text transform="translate(621.22,146.80) rotate(-45)" font-size="8.0" font-weight="bold" text-anchor="end">256</text>
<rect x="615.97" y="122.44" width="1.9" height="12.86" fill="#fff" stroke="#000" stroke-width="0.5"/>
<rect x="619.72" y="99.28" width="2.1" height="36.02" fill="#000"/>
<line x1="628.36" y1="135.30" x2="628.36" y2="139.80" stroke="#000" stroke-width="1.3" />
<rect x="625.91" y="128.87" width="1.9" height="6.43" fill="#fff" stroke="#000" stroke-width="0.5"/>
<rect x="629.66" y="105.71" width="2.1" height="29.59" fill="#000"/>
<line x1="638.30" y1="135.30" x2="638.30" y2="139.80" stroke="#000" stroke-width="1.3" />
<text transform="translate(641.10,146.80) rotate(-45)" font-size="8.0" font-weight="bold" text-anchor="end">1024</text>
<rect x="635.85" y="109.57" width="1.9" height="25.73" fill="#fff" stroke="#000" stroke-width="0.5"/>
<line x1="648.24" y1="135.30" x2="648.24" y2="139.80" stroke="#000" stroke-width="1.3" />
<rect x="645.79" y="115.58" width="1.9" height="19.72" fill="#fff" stroke="#000" stroke-width="0.5"/>
<line x1="658.18" y1="135.30" x2="658.18" y2="139.80" stroke="#000" stroke-width="1.3" />
<text transform="translate(660.98,146.80) rotate(-45)" font-size="8.0" font-weight="bold" text-anchor="end">4096</text>
<rect x="655.73" y="125.44" width="1.9" height="9.86" fill="#fff" stroke="#000" stroke-width="0.5"/>
<line x1="668.12" y1="135.30" x2="668.12" y2="139.80" stroke="#000" stroke-width="1.3" />
<rect x="665.67" y="88.13" width="1.9" height="47.17" fill="#fff" stroke="#000" stroke-width="0.5"/>
<line x1="678.06" y1="135.30" x2="678.06" y2="139.80" stroke="#000" stroke-width="1.3" />
<text transform="translate(680.86,146.80) rotate(-45)" font-size="8.0" font-weight="bold" text-anchor="end">16384</text>
<rect x="675.61" y="123.29" width="1.9" height="12.01" fill="#fff" stroke="#000" stroke-width="0.5"/>
<line x1="534.95" y1="135.30" x2="683.40" y2="135.30" stroke="#000" stroke-width="1.3" />
<text transform="translate(515.20,80.40) rotate(-90)" font-size="8.85" font-weight="bold" text-anchor="middle">%variation (RSD)</text>
<text x="608.90" y="175.40" font-size="8.85" font-weight="bold" text-anchor="middle" fill="#000" >Dilution factor (fold change)</text>
<rect x="546.2" y="33.9" width="10.8" height="4.5" fill="#000"/>
<text x="564.00" y="38.90" font-size="8.9" font-weight="normal" text-anchor="start" fill="#000" >WT HEK293</text>
<rect x="623.8" y="34.1" width="10.4" height="4.1" fill="#fff" stroke="#000" stroke-width="0.5"/>
<text x="641.10" y="38.90" font-size="8.9" font-weight="normal" text-anchor="start" fill="#000" >WT mouse</text>
<text x="661.50" y="49.00" font-size="8.9" font-weight="normal" text-anchor="middle" fill="#000" >brain</text>
<line x1="50.70" y1="26.75" x2="50.70" y2="135.90" stroke="#000" stroke-width="1.3" />
<line x1="46.30" y1="135.25" x2="50.70" y2="135.25" stroke="#000" stroke-width="1.3" />
<text x="45.00" y="138.20" font-size="8.0" font-weight="bold" text-anchor="end" fill="#000" >0</text>
<line x1="46.30" y1="108.29" x2="50.70" y2="108.29" stroke="#000" stroke-width="1.3" />
<text x="45.00" y="111.24" font-size="8.0" font-weight="bold" text-anchor="end" fill="#000" >50000</text>
<line x1="46.30" y1="81.33" x2="50.70" y2="81.33" stroke="#000" stroke-width="1.3" />
<text x="45.00" y="84.28" font-size="8.0" font-weight="bold" text-anchor="end" fill="#000" >100000</text>
<line x1="46.30" y1="54.36" x2="50.70" y2="54.36" stroke="#000" stroke-width="1.3" />
<text x="45.00" y="57.31" font-size="8.0" font-weight="bold" text-anchor="end" fill="#000" >150000</text>
<line x1="46.30" y1="27.40" x2="50.70" y2="27.40" stroke="#000" stroke-width="1.3" />
<text x="45.00" y="30.35" font-size="8.0" font-weight="bold" text-anchor="end" fill="#000" >200000</text>
<line x1="50.05" y1="135.25" x2="157.60" y2="135.25" stroke="#000" stroke-width="1.3" />
<line x1="50.70" y1="135.25" x2="50.70" y2="139.45" stroke="#000" stroke-width="1.3" />
<text transform="translate(53.40,146.75) rotate(-45)" font-size="8.0" font-weight="bold" text-anchor="end">1</text>
<line x1="71.95" y1="135.25" x2="71.95" y2="139.45" stroke="#000" stroke-width="1.3" />
<text transform="translate(74.65,146.75) rotate(-45)" font-size="8.0" font-weight="bold" text-anchor="end">10</text>
<line x1="93.20" y1="135.25" x2="93.20" y2="139.45" stroke="#000" stroke-width="1.3" />
<text transform="translate(95.90,146.75) rotate(-45)" font-size="8.0" font-weight="bold" text-anchor="end">100</text>
<line x1="114.45" y1="135.25" x2="114.45" y2="139.45" stroke="#000" stroke-width="1.3" />
<text transform="translate(117.15,146.75) rotate(-45)" font-size="8.0" font-weight="bold" text-anchor="end">1000</text>
<line x1="135.70" y1="135.25" x2="135.70" y2="139.45" stroke="#000" stroke-width="1.3" />
<text transform="translate(138.40,146.75) rotate(-45)" font-size="8.0" font-weight="bold" text-anchor="end">10000</text>
<line x1="156.95" y1="135.25" x2="156.95" y2="139.45" stroke="#000" stroke-width="1.3" />
<text transform="translate(159.65,146.75) rotate(-45)" font-size="8.0" font-weight="bold" text-anchor="end">100000</text>
<line x1="400.00" y1="26.75" x2="400.00" y2="135.90" stroke="#000" stroke-width="1.3" />
<line x1="395.60" y1="135.25" x2="400.00" y2="135.25" stroke="#000" stroke-width="1.3" />
<text x="394.30" y="138.20" font-size="8.0" font-weight="bold" text-anchor="end" fill="#000" >0</text>
<line x1="395.60" y1="108.29" x2="400.00" y2="108.29" stroke="#000" stroke-width="1.3" />
<text x="394.30" y="111.24" font-size="8.0" font-weight="bold" text-anchor="end" fill="#000" >200000</text>
<line x1="395.60" y1="81.33" x2="400.00" y2="81.33" stroke="#000" stroke-width="1.3" />
<text x="394.30" y="84.28" font-size="8.0" font-weight="bold" text-anchor="end" fill="#000" >400000</text>
<line x1="395.60" y1="54.36" x2="400.00" y2="54.36" stroke="#000" stroke-width="1.3" />
<text x="394.30" y="57.31" font-size="8.0" font-weight="bold" text-anchor="end" fill="#000" >600000</text>
<line x1="395.60" y1="27.40" x2="400.00" y2="27.40" stroke="#000" stroke-width="1.3" />
<text x="394.30" y="30.35" font-size="8.0" font-weight="bold" text-anchor="end" fill="#000" >800000</text>
<line x1="399.35" y1="135.25" x2="506.65" y2="135.25" stroke="#000" stroke-width="1.3" />
<line x1="400.00" y1="135.25" x2="400.00" y2="139.45" stroke="#000" stroke-width="1.3" />
<text transform="translate(402.70,146.75) rotate(-45)" font-size="8.0" font-weight="bold" text-anchor="end">1</text>
<line x1="421.20" y1="135.25" x2="421.20" y2="139.45" stroke="#000" stroke-width="1.3" />
<text transform="translate(423.90,146.75) rotate(-45)" font-size="8.0" font-weight="bold" text-anchor="end">10</text>
<line x1="442.40" y1="135.25" x2="442.40" y2="139.45" stroke="#000" stroke-width="1.3" />
<text transform="translate(445.10,146.75) rotate(-45)" font-size="8.0" font-weight="bold" text-anchor="end">100</text>
<line x1="463.60" y1="135.25" x2="463.60" y2="139.45" stroke="#000" stroke-width="1.3" />
<text transform="translate(466.30,146.75) rotate(-45)" font-size="8.0" font-weight="bold" text-anchor="end">1000</text>
<line x1="484.80" y1="135.25" x2="484.80" y2="139.45" stroke="#000" stroke-width="1.3" />
<text transform="translate(487.50,146.75) rotate(-45)" font-size="8.0" font-weight="bold" text-anchor="end">10000</text>
<line x1="506.00" y1="135.25" x2="506.00" y2="139.45" stroke="#000" stroke-width="1.3" />
<text transform="translate(508.70,146.75) rotate(-45)" font-size="8.0" font-weight="bold" text-anchor="end">100000</text>
<line x1="49.00" y1="204.35" x2="49.00" y2="312.85" stroke="#000" stroke-width="1.3" />
<line x1="44.60" y1="312.20" x2="49.00" y2="312.20" stroke="#000" stroke-width="1.3" />
<text x="43.30" y="315.15" font-size="8.0" font-weight="bold" text-anchor="end" fill="#000" >0</text>
<line x1="44.60" y1="285.40" x2="49.00" y2="285.40" stroke="#000" stroke-width="1.3" />
<text x="43.30" y="288.35" font-size="8.0" font-weight="bold" text-anchor="end" fill="#000" >200000</text>
<line x1="44.60" y1="258.60" x2="49.00" y2="258.60" stroke="#000" stroke-width="1.3" />
<text x="43.30" y="261.55" font-size="8.0" font-weight="bold" text-anchor="end" fill="#000" >400000</text>
<line x1="44.60" y1="231.80" x2="49.00" y2="231.80" stroke="#000" stroke-width="1.3" />
<text x="43.30" y="234.75" font-size="8.0" font-weight="bold" text-anchor="end" fill="#000" >600000</text>
<line x1="44.60" y1="205.00" x2="49.00" y2="205.00" stroke="#000" stroke-width="1.3" />
<text x="43.30" y="207.95" font-size="8.0" font-weight="bold" text-anchor="end" fill="#000" >800000</text>
<line x1="48.35" y1="312.20" x2="154.85" y2="312.20" stroke="#000" stroke-width="1.3" />
<line x1="49.00" y1="312.20" x2="49.00" y2="316.40" stroke="#000" stroke-width="1.3" />
<text transform="translate(51.70,323.70) rotate(-45)" font-size="8.0" font-weight="bold" text-anchor="end">1</text>
<line x1="75.30" y1="312.20" x2="75.30" y2="316.40" stroke="#000" stroke-width="1.3" />
<text transform="translate(78.00,323.70) rotate(-45)" font-size="8.0" font-weight="bold" text-anchor="end">10</text>
<line x1="101.60" y1="312.20" x2="101.60" y2="316.40" stroke="#000" stroke-width="1.3" />
<text transform="translate(104.30,323.70) rotate(-45)" font-size="8.0" font-weight="bold" text-anchor="end">100</text>
<line x1="127.90" y1="312.20" x2="127.90" y2="316.40" stroke="#000" stroke-width="1.3" />
<text transform="translate(130.60,323.70) rotate(-45)" font-size="8.0" font-weight="bold" text-anchor="end">1000</text>
<line x1="154.20" y1="312.20" x2="154.20" y2="316.40" stroke="#000" stroke-width="1.3" />
<text transform="translate(156.90,323.70) rotate(-45)" font-size="8.0" font-weight="bold" text-anchor="end">10000</text>
<line x1="399.80" y1="203.95" x2="399.80" y2="312.65" stroke="#000" stroke-width="1.3" />
<line x1="395.40" y1="312.00" x2="399.80" y2="312.00" stroke="#000" stroke-width="1.3" />
<text x="394.10" y="314.95" font-size="8.0" font-weight="bold" text-anchor="end" fill="#000" >0</text>
<line x1="395.40" y1="285.15" x2="399.80" y2="285.15" stroke="#000" stroke-width="1.3" />
<text x="394.10" y="288.10" font-size="8.0" font-weight="bold" text-anchor="end" fill="#000" >50000</text>
<line x1="395.40" y1="258.30" x2="399.80" y2="258.30" stroke="#000" stroke-width="1.3" />
<text x="394.10" y="261.25" font-size="8.0" font-weight="bold" text-anchor="end" fill="#000" >100000</text>
<line x1="395.40" y1="231.45" x2="399.80" y2="231.45" stroke="#000" stroke-width="1.3" />
<text x="394.10" y="234.40" font-size="8.0" font-weight="bold" text-anchor="end" fill="#000" >150000</text>
<line x1="395.40" y1="204.60" x2="399.80" y2="204.60" stroke="#000" stroke-width="1.3" />
<text x="394.10" y="207.55" font-size="8.0" font-weight="bold" text-anchor="end" fill="#000" >200000</text>
<line x1="399.15" y1="312.00" x2="506.05" y2="312.00" stroke="#000" stroke-width="1.3" />
<line x1="399.80" y1="312.00" x2="399.80" y2="316.20" stroke="#000" stroke-width="1.3" />
<text transform="translate(402.50,323.50) rotate(-45)" font-size="8.0" font-weight="bold" text-anchor="end">1</text>
<line x1="426.20" y1="312.00" x2="426.20" y2="316.20" stroke="#000" stroke-width="1.3" />
<text transform="translate(428.90,323.50) rotate(-45)" font-size="8.0" font-weight="bold" text-anchor="end">10</text>
<line x1="452.60" y1="312.00" x2="452.60" y2="316.20" stroke="#000" stroke-width="1.3" />
<text transform="translate(455.30,323.50) rotate(-45)" font-size="8.0" font-weight="bold" text-anchor="end">100</text>
<line x1="479.00" y1="312.00" x2="479.00" y2="316.20" stroke="#000" stroke-width="1.3" />
<text transform="translate(481.70,323.50) rotate(-45)" font-size="8.0" font-weight="bold" text-anchor="end">1000</text>
<line x1="505.40" y1="312.00" x2="505.40" y2="316.20" stroke="#000" stroke-width="1.3" />
<text transform="translate(508.10,323.50) rotate(-45)" font-size="8.0" font-weight="bold" text-anchor="end">10000</text>
<line x1="210.90" y1="204.95" x2="210.90" y2="313.05" stroke="#000" stroke-width="1.3" />
<line x1="206.50" y1="312.40" x2="210.90" y2="312.40" stroke="#000" stroke-width="1.3" />
<text x="205.20" y="315.35" font-size="8.0" font-weight="bold" text-anchor="end" fill="#000" >10</text>
<line x1="206.50" y1="259.00" x2="210.90" y2="259.00" stroke="#000" stroke-width="1.3" />
<text x="205.20" y="261.95" font-size="8.0" font-weight="bold" text-anchor="end" fill="#000" >100</text>
<line x1="206.50" y1="205.60" x2="210.90" y2="205.60" stroke="#000" stroke-width="1.3" />
<text x="205.20" y="208.55" font-size="8.0" font-weight="bold" text-anchor="end" fill="#000" >1000</text>
<line x1="210.25" y1="312.40" x2="317.05" y2="312.40" stroke="#000" stroke-width="1.3" />
<line x1="210.90" y1="312.40" x2="210.90" y2="316.60" stroke="#000" stroke-width="1.3" />
<text transform="translate(213.60,323.90) rotate(-45)" font-size="8.0" font-weight="bold" text-anchor="end">1</text>
<line x1="232.00" y1="312.40" x2="232.00" y2="316.60" stroke="#000" stroke-width="1.3" />
<text transform="translate(234.70,323.90) rotate(-45)" font-size="8.0" font-weight="bold" text-anchor="end">10</text>
<line x1="253.10" y1="312.40" x2="253.10" y2="316.60" stroke="#000" stroke-width="1.3" />
<text transform="translate(255.80,323.90) rotate(-45)" font-size="8.0" font-weight="bold" text-anchor="end">100</text>
<line x1="274.20" y1="312.40" x2="274.20" y2="316.60" stroke="#000" stroke-width="1.3" />
<text transform="translate(276.90,323.90) rotate(-45)" font-size="8.0" font-weight="bold" text-anchor="end">1000</text>
<line x1="295.30" y1="312.40" x2="295.30" y2="316.60" stroke="#000" stroke-width="1.3" />
<text transform="translate(298.00,323.90) rotate(-45)" font-size="8.0" font-weight="bold" text-anchor="end">10000</text>
<line x1="316.40" y1="312.40" x2="316.40" y2="316.60" stroke="#000" stroke-width="1.3" />
<text transform="translate(319.10,323.90) rotate(-45)" font-size="8.0" font-weight="bold" text-anchor="end">100000</text>
<line x1="560.70" y1="203.95" x2="560.70" y2="312.35" stroke="#000" stroke-width="1.3" />
<line x1="556.30" y1="311.70" x2="560.70" y2="311.70" stroke="#000" stroke-width="1.3" />
<text x="555.00" y="314.65" font-size="8.0" font-weight="bold" text-anchor="end" fill="#000" >10</text>
<line x1="556.30" y1="276.00" x2="560.70" y2="276.00" stroke="#000" stroke-width="1.3" />
<text x="555.00" y="278.95" font-size="8.0" font-weight="bold" text-anchor="end" fill="#000" >100</text>
<line x1="556.30" y1="240.30" x2="560.70" y2="240.30" stroke="#000" stroke-width="1.3" />
<text x="555.00" y="243.25" font-size="8.0" font-weight="bold" text-anchor="end" fill="#000" >1000</text>
<line x1="556.30" y1="204.60" x2="560.70" y2="204.60" stroke="#000" stroke-width="1.3" />
<text x="555.00" y="207.55" font-size="8.0" font-weight="bold" text-anchor="end" fill="#000" >10000</text>
<line x1="560.05" y1="311.70" x2="667.35" y2="311.70" stroke="#000" stroke-width="1.3" />
<line x1="560.70" y1="311.70" x2="560.70" y2="315.90" stroke="#000" stroke-width="1.3" />
<text transform="translate(563.40,323.20) rotate(-45)" font-size="8.0" font-weight="bold" text-anchor="end">1</text>
<line x1="581.90" y1="311.70" x2="581.90" y2="315.90" stroke="#000" stroke-width="1.3" />
<text transform="translate(584.60,323.20) rotate(-45)" font-size="8.0" font-weight="bold" text-anchor="end">10</text>
<line x1="603.10" y1="311.70" x2="603.10" y2="315.90" stroke="#000" stroke-width="1.3" />
<text transform="translate(605.80,323.20) rotate(-45)" font-size="8.0" font-weight="bold" text-anchor="end">100</text>
<line x1="624.30" y1="311.70" x2="624.30" y2="315.90" stroke="#000" stroke-width="1.3" />
<text transform="translate(627.00,323.20) rotate(-45)" font-size="8.0" font-weight="bold" text-anchor="end">1000</text>
<line x1="645.50" y1="311.70" x2="645.50" y2="315.90" stroke="#000" stroke-width="1.3" />
<text transform="translate(648.20,323.20) rotate(-45)" font-size="8.0" font-weight="bold" text-anchor="end">10000</text>
<line x1="666.70" y1="311.70" x2="666.70" y2="315.90" stroke="#000" stroke-width="1.3" />
<text transform="translate(669.40,323.20) rotate(-45)" font-size="8.0" font-weight="bold" text-anchor="end">100000</text>
<line x1="182.70" y1="27.45" x2="182.70" y2="135.95" stroke="#000" stroke-width="1.3" />
<line x1="178.30" y1="135.30" x2="182.70" y2="135.30" stroke="#000" stroke-width="1.3" />
<text x="177.00" y="138.25" font-size="8.0" font-weight="bold" text-anchor="end" fill="#000" >0</text>
<line x1="178.30" y1="99.57" x2="182.70" y2="99.57" stroke="#000" stroke-width="1.3" />
<text x="177.00" y="102.52" font-size="8.0" font-weight="bold" text-anchor="end" fill="#000" >5</text>
<line x1="178.30" y1="63.83" x2="182.70" y2="63.83" stroke="#000" stroke-width="1.3" />
<text x="177.00" y="66.78" font-size="8.0" font-weight="bold" text-anchor="end" fill="#000" >10</text>
<line x1="178.30" y1="28.10" x2="182.70" y2="28.10" stroke="#000" stroke-width="1.3" />
<text x="177.00" y="31.05" font-size="8.0" font-weight="bold" text-anchor="end" fill="#000" >15</text>
<line x1="535.60" y1="27.45" x2="535.60" y2="135.95" stroke="#000" stroke-width="1.3" />
<line x1="531.20" y1="135.30" x2="535.60" y2="135.30" stroke="#000" stroke-width="1.3" />
<text x="529.90" y="138.25" font-size="8.0" font-weight="bold" text-anchor="end" fill="#000" >0</text>
<line x1="531.20" y1="113.86" x2="535.60" y2="113.86" stroke="#000" stroke-width="1.3" />
<text x="529.90" y="116.81" font-size="8.0" font-weight="bold" text-anchor="end" fill="#000" >5</text>
<line x1="531.20" y1="92.42" x2="535.60" y2="92.42" stroke="#000" stroke-width="1.3" />
<text x="529.90" y="95.37" font-size="8.0" font-weight="bold" text-anchor="end" fill="#000" >10</text>
<line x1="531.20" y1="70.98" x2="535.60" y2="70.98" stroke="#000" stroke-width="1.3" />
<text x="529.90" y="73.93" font-size="8.0" font-weight="bold" text-anchor="end" fill="#000" >15</text>
<line x1="531.20" y1="49.54" x2="535.60" y2="49.54" stroke="#000" stroke-width="1.3" />
<text x="529.90" y="52.49" font-size="8.0" font-weight="bold" text-anchor="end" fill="#000" >20</text>
<line x1="531.20" y1="28.10" x2="535.60" y2="28.10" stroke="#000" stroke-width="1.3" />
<text x="529.90" y="31.05" font-size="8.0" font-weight="bold" text-anchor="end" fill="#000" >25</text>
</g>
</svg>
</body></html>
